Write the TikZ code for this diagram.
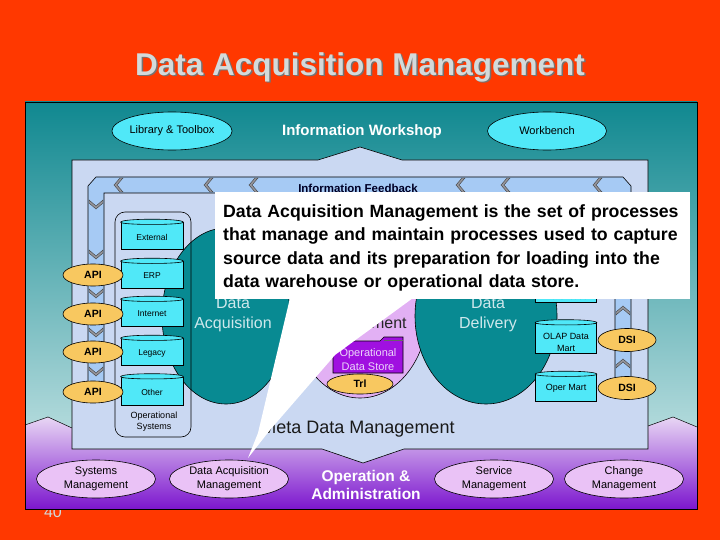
\documentclass[tikz,border=0pt]{standalone}
\usepackage{fontspec}
\setmainfont{Liberation Sans}
\usetikzlibrary{shapes.geometric}
\definecolor{bgred}{RGB}{255,56,0}
\definecolor{titlegray}{RGB}{212,218,218}
\definecolor{panteal}{RGB}{16,136,144}
\definecolor{panlight}{RGB}{218,238,238}
\definecolor{lavtop}{RGB}{232,214,244}
\definecolor{lavbot}{RGB}{124,22,206}
\definecolor{metafill}{RGB}{202,216,242}
\definecolor{bandblue}{RGB}{166,202,244}
\definecolor{cyanfill}{RGB}{80,232,248}
\definecolor{apiorange}{RGB}{248,200,96}
\definecolor{tealblob}{RGB}{8,138,146}
\definecolor{blobtxt}{RGB}{206,232,236}
\definecolor{dmpurple}{RGB}{226,176,244}
\definecolor{odspurple}{RGB}{160,16,224}
\definecolor{odstext}{RGB}{236,214,250}
\definecolor{lavell}{RGB}{234,194,246}
\definecolor{chevgray}{RGB}{150,150,156}
\begin{document}
\begin{tikzpicture}[x=1pt,y=-1pt,
  ell/.style={ellipse, draw=black, line width=0.6pt, inner sep=0pt, align=center},
  apinode/.style={ell, fill=apiorange, minimum width=60pt, minimum height=22pt, font=\bfseries\fontsize{10.5}{12}\selectfont},
  topell/.style={ell, fill=cyanfill, minimum width=119pt, minimum height=38pt, font=\fontsize{11}{13}\selectfont},
  botell/.style={ell, fill=lavell, minimum width=119pt, minimum height=38pt, font=\fontsize{11}{14}\selectfont},
  cylbox/.style={draw=black, line width=0.6pt, fill=cyanfill, inner sep=0pt, minimum width=62pt},
  cyltext/.style={font=\fontsize{8.5}{11}\selectfont, align=center, inner sep=0pt},
  blob/.style={ellipse, draw=black, line width=0.6pt, fill=tealblob, inner sep=0pt},
  blobtext/.style={font=\fontsize{16}{20}\selectfont, align=center, text=blobtxt},
  chevst/.style={fill=chevgray, draw=black!75, line width=0.4pt},
  chevl/.pic={\path[chevst] (-4,0) -- (2,-7) -- (5,-7) -- (-1,0) -- (5,7) -- (2,7) -- cycle;},
  chevd/.pic={\path[chevst] (0,4) -- (-7,-2) -- (-7,-5) -- (0,1) -- (7,-5) -- (7,-2) -- cycle;},
  chevu/.pic={\path[chevst] (0,-4) -- (-7,2) -- (-7,5) -- (0,-1) -- (7,5) -- (7,2) -- cycle;}
]
\useasboundingbox (0,0) rectangle (720,540);
\fill[bgred] (0,0) rectangle (720,540);
% title
\node[font=\bfseries\fontsize{31.5}{36}\selectfont, text=black!55] (titleshadow) at (361.5,68.5) {Data Acquisition Management};
\node[font=\bfseries\fontsize{31.5}{36}\selectfont, text=titlegray] (title) at (360,67) {Data Acquisition Management};
% page number
\node[anchor=base, font=\fontsize{16}{18}\selectfont, text=titlegray] (pagenum) at (53,517) {40};
% main panel
\shade[top color=panteal, bottom color=panlight] (25,102) rectangle (697,509);
\shade[top color=lavtop, bottom color=lavbot] (25,425) -- (48,417) -- (72,428) -- (648,426) -- (673,417) -- (697,427) -- (697,509) -- (25,509) -- cycle;
\draw[line width=0.5pt] (25,425) -- (48,417) -- (72,428);
\draw[line width=0.5pt] (648,426) -- (673,417) -- (697,427);
\draw[line width=0.8pt] (25,102) rectangle (697,509);
% meta data panel
\filldraw[fill=metafill, draw=black, line width=0.6pt] (72,160) -- (318,160) -- (360,147) -- (402,160) -- (648,160) -- (648,449) -- (404,449) -- (363,463) -- (322,449) -- (72,449) -- cycle;
% information feedback band
\filldraw[fill=bandblue, draw=black, line width=0.6pt] (88,398) -- (88,186) -- (96,177) -- (623,177) -- (631,186) -- (631,382) -- (615,382) -- (615,193) -- (104,193) -- (104,398) -- cycle;
\node[font=\bfseries\fontsize{11.5}{13}\selectfont, text=black!85!blue] (feedback) at (358,188) {Information Feedback};
\foreach \xx in {118,208,253,460,505,597} \pic at (\xx,185) {chevl};
\foreach \yy in {205,255,294,333,372} \pic at (96,\yy) {chevd};
\foreach \yy in {265,310,363} \pic at (623,\yy) {chevu};
% central blobs
\node[blob, fill=dmpurple, minimum width=136pt, minimum height=176pt] (dm) at (360,310) {};
\node[blob, minimum width=128pt, minimum height=176pt] (da) at (226,316) {};
\node[blob, minimum width=142pt, minimum height=176pt] (dd) at (486,316) {};
\node[blobtext] (datext) at (233,315) {Data\\Acquisition};
\node[blobtext, text=black!85] (dmtext) at (360,315) {Data\\Management};
\node[blobtext] (ddtext) at (488,315) {Data\\Delivery};
% operational systems
\draw[line width=0.6pt, rounded corners=10pt] (115,212) rectangle (191,437);
\node[font=\fontsize{9}{11}\selectfont, align=center] (opsys) at (154,422) {Operational\\Systems};
\foreach \nm/\yy/\hh/\tx in {ext/236/27/External, erp/275/27/ERP, inet/313/27/Internet, leg/352/27/Legacy, oth/391/28/Other}{
  \node[cylbox, minimum height=\hh pt] (\nm) at (152,\yy) {};
  \filldraw[fill=cyanfill, line width=0.6pt] (\nm.north west) .. controls +(0,-4) and +(0,-4) .. (\nm.north east) .. controls +(0,3) and +(0,3) .. (\nm.north west) -- cycle;
  \node[cyltext] (\nm t) at (152,\yy+1) {\tx};
}
\foreach \nm/\yy in {api1/275, api2/314, api3/352, api4/392}{
  \node[apinode] (\nm) at (93,\yy) {API};
}
% operational data store
\filldraw[fill=odspurple, draw=black, line width=0.6pt] (333,341) -- (380,341) -- (384,337) -- (403,337) -- (403,373) -- (333,373) -- cycle;
\draw[black!60, line width=0.4pt] (384,340) -- (403,340);
\node[font=\fontsize{11}{14}\selectfont, align=center, text=odstext] (ods) at (368,360) {Operational\\Data Store};
\node[ell, fill=apiorange, minimum width=66pt, minimum height=20pt, font=\bfseries\fontsize{10.5}{12}\selectfont] (trl) at (360,384) {Trl};
% delivery side
\foreach \nm/\yy/\hh in {wh/288/28, olap/338/30, oper/388/27}{
  \node[cylbox, minimum width=61pt, minimum height=\hh pt] (\nm) at (566,\yy) {};
  \filldraw[fill=cyanfill, line width=0.6pt] (\nm.north west) .. controls +(0,-4) and +(0,-4) .. (\nm.north east) .. controls +(0,3) and +(0,3) .. (\nm.north west) -- cycle;
}
\node[cyltext] (wht) at (566,296) {Warehouse};
\node[cyltext, font=\fontsize{9}{12}\selectfont] (olapt) at (566,342) {OLAP Data\\Mart};
\node[cyltext, font=\fontsize{9}{12}\selectfont] (opert) at (566,388) {Oper Mart};
\node[apinode, minimum width=58pt, minimum height=23pt] (dsi1) at (627,340) {DSI};
\node[apinode, minimum width=58pt, minimum height=23pt] (dsi2) at (627,388) {DSI};
% meta data text
\node[font=\fontsize{18}{20}\selectfont, text=black!90] (meta) at (358,429) {Meta Data Management};
% top row
\node[topell] (lib) at (172,131) {Library \& Toolbox};
\node[font=\bfseries\fontsize{15}{17}\selectfont, text=white] (iw) at (362,132) {Information Workshop};
\node[topell] (wb) at (547,131) {Workbench};
% bottom row
\node[botell] (sysm) at (96,479) {Systems\\Management};
\node[botell] (dam) at (229,479) {Data Acquisition\\Management};
\node[font=\bfseries\fontsize{15.5}{18}\selectfont, text=white, align=center] (opadm) at (366,485) {Operation \&\\Administration};
\node[botell] (svc) at (494,479) {Service\\Management};
\node[botell] (chg) at (624,479) {Change\\Management};
% callout
\coordinate (tip) at (248,458);
\fill[white] (290,298) -- (258,433) -- (tip) -- (270,430) -- (335,355) -- (413,298) -- cycle;
\fill[white] (215,192) rectangle (690,299);
\node[anchor=north west, text width=470pt, align=left, inner sep=0pt, font=\bfseries\fontsize{17.7}{23.5}\selectfont] (callout) at (223,204) {Data Acquisition Management is the set of processes that manage and maintain processes used to capture source data and its preparation for loading into the data warehouse or operational data store.};
\end{tikzpicture}
\end{document}
